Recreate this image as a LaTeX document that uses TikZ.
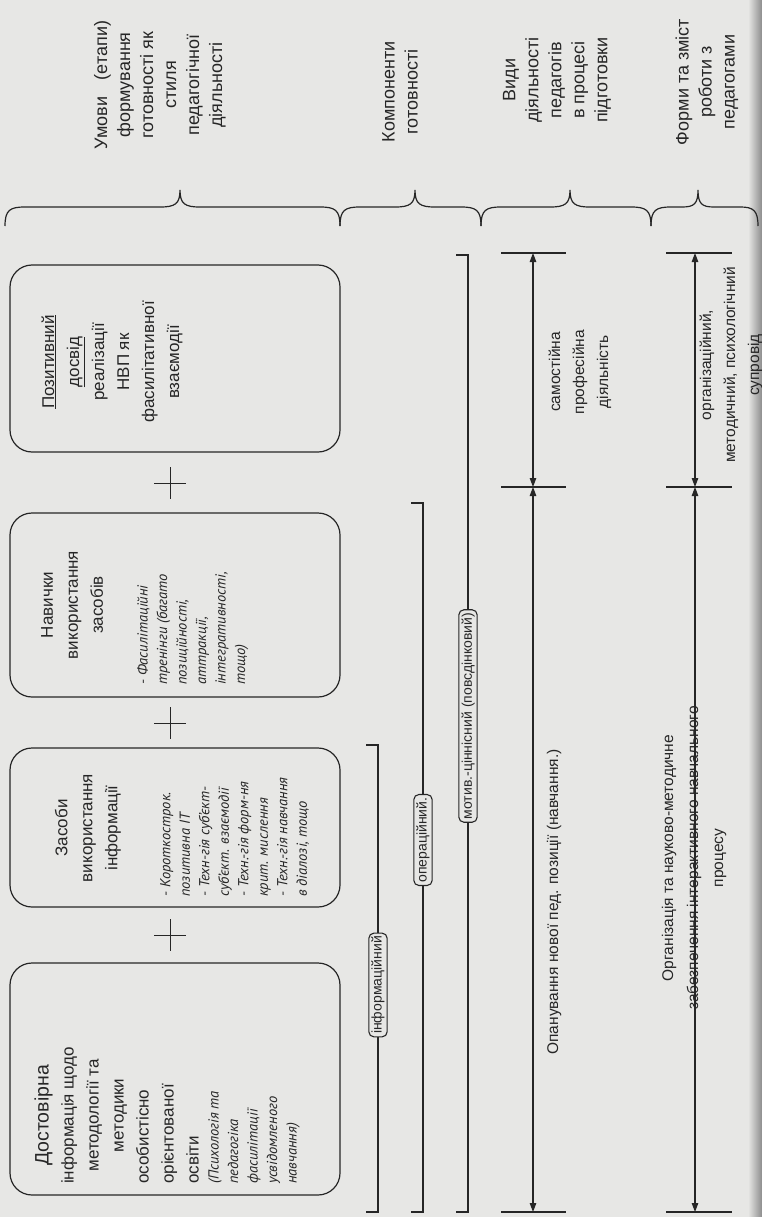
\documentclass[tikz,border=0pt]{standalone}
\usepackage{fontspec}
\setmainfont{Liberation Sans}
\newfontfamily\itf{PT Sans}
\usetikzlibrary{arrows.meta}
\definecolor{bg}{RGB}{231,231,229}
\definecolor{ink}{RGB}{38,38,38}
\tikzset{
  ln/.style={draw=ink, line width=1.2pt},
  box/.style={draw=ink, line width=1.2pt, rounded corners=22pt, inner sep=0pt},
  rtxt/.style={rotate=90, text=ink, inner sep=0pt, align=center},
  hdr/.style={rtxt, font=\fontsize{18}{23}\selectfont},
  btxt/.style={rtxt, font=\fontsize{17}{25}\selectfont},
  itxt/.style={rtxt, align=left, font=\itf\itshape\fontsize{14.5}{19.5}\selectfont},
  ltxt/.style={rtxt, font=\fontsize{15.5}{24}\selectfont},
  lbl/.style={rotate=90, draw=ink, line width=1.1pt, rounded corners=5pt, fill=bg, text=ink,
              inner xsep=3pt, inner ysep=2.5pt, font=\fontsize{14}{16}\selectfont},
  arr/.style={draw=ink, line width=1.1pt, {Triangle[length=9pt,width=6.5pt]}-{Triangle[length=9pt,width=6.5pt]}}
}
\begin{document}
\begin{tikzpicture}[x=1pt,y=-1pt]
\fill[bg] (0,0) rectangle (762,1217);
\useasboundingbox (0,0) rectangle (762,1217);
\shade[left color=bg, right color=black!45] (748,0) rectangle (762,1217);

% ---------- header texts ----------
\node[hdr] (h1) at (160,85) {Умови\hspace{0.9em}(етапи)\\формування\\готовності як\\стиля\\педагогічної\\діяльності};
\node[hdr] (h2) at (400,92) {Компоненти\\готовності};
\node[hdr] (h3) at (557,80) {Види\\діяльності\\педагогів\\в процесі\\підготовки};
\node[hdr] (h4) at (707,82) {Форми та зміст\\роботи з\\педагогами};

% ---------- braces ----------
\draw[ln] (5,226) .. controls (5,210) and (10,207) .. (25,207) -- (160,207)
  .. controls (175,207) and (180,204) .. (180,190)
  .. controls (180,204) and (185,207) .. (200,207) -- (320,207)
  .. controls (335,207) and (340,210) .. (340,226);
\draw[ln] (340,226) .. controls (340,210) and (345,207) .. (360,207) -- (395,207)
  .. controls (410,207) and (415,204) .. (415,190)
  .. controls (415,204) and (420,207) .. (435,207) -- (461,207)
  .. controls (476,207) and (481,210) .. (481,226);
\draw[ln] (481,226) .. controls (481,210) and (486,207) .. (501,207) -- (550,207)
  .. controls (565,207) and (570,204) .. (570,190)
  .. controls (570,204) and (575,207) .. (590,207) -- (631,207)
  .. controls (646,207) and (651,210) .. (651,226);
\draw[ln] (651,226) .. controls (651,210) and (656,207) .. (671,207) -- (682,207)
  .. controls (694,207) and (698,204) .. (698,190)
  .. controls (698,204) and (702,207) .. (714,207) -- (740,207)
  .. controls (753,207) and (758,210) .. (758,226);

% ---------- boxes ----------
\node[box, minimum width=330pt, minimum height=187pt] (bA) at (175,358.5) {};
\node[box, minimum width=330pt, minimum height=184pt] (bB) at (175,605) {};
\node[box, minimum width=330pt, minimum height=159pt] (bC) at (175,827.5) {};
\node[box, minimum width=330pt, minimum height=232pt] (bD) at (175,1079) {};

\node[btxt] (tA) at (112,362) {\underline{Позитивний}\\\underline{досвід}\\реалізації\\НВП як\\фасилітативної\\взаємодії};

\node[btxt] (tB) at (72,605) {Навички\\використання\\засобів};
\node[itxt, anchor=north west] (iB) at (137,685) {- Фасилітаційні\\тренінги (багато\\позиційності,\\аттракції,\\інтегративності,\\тощо)};

\node[btxt] (tC) at (88,828) {Засоби\\використання\\інформації};
\node[itxt, anchor=north west] (iC) at (160,897) {- Короткострок.\\позитивна ІТ\\- Техн-гія суб’єкт-\\суб’єкт. взаємодії\\- Техн.-гія форм-ня\\крит. мислення\\- Техн.-гія навчання\\в діалозі, тощо};

\node[rtxt, anchor=north west, font=\fontsize{17}{25}\selectfont] (tD) at (31,1184)
  {\begin{tabular}{@{}l@{}}
   \multicolumn{1}{@{}c@{}}{\fontsize{19.5}{25}\selectfont Достовірна}\\
   \multicolumn{1}{@{}c@{}}{інформація щодо}\\
   \multicolumn{1}{@{}c@{}}{методології та}\\
   \multicolumn{1}{@{}c@{}}{методики}\\
   особистісно\\
   орієнтованої\\
   освіти
   \end{tabular}};
\node[itxt, anchor=north west] (iD) at (208,1184) {(Психологія та\\педагогіка\\фасилітації\\усвідомленого\\навчання)};

% ---------- plus signs ----------
\coordinate (p1) at (170,483);
\coordinate (p2) at (170,723);
\coordinate (p3) at (170,935);
\foreach \p in {p1,p2,p3}{
  \draw[ln, line width=1pt] (\p) ++(-16,0) -- ++(32,0);
  \draw[ln, line width=1pt] (\p) ++(0,-16) -- ++(0,32);
}

% ---------- component brackets ----------
\node[lbl] (lI) at (378,985) {інформаційний};
\node[lbl] (lO) at (423,840) {операційний.};
\node[lbl] (lM) at (468,716) {мотив.-ціннісний (повсдінковий)};

\coordinate (kIa) at (366,745);  \coordinate (kIb) at (378,745);
\coordinate (kIc) at (378,1212); \coordinate (kId) at (366,1212);
\coordinate (kOa) at (411,503);  \coordinate (kOb) at (423,503);
\coordinate (kOc) at (423,1212); \coordinate (kOd) at (411,1212);
\coordinate (kMa) at (456,255);  \coordinate (kMb) at (468,255);
\coordinate (kMc) at (468,1212); \coordinate (kMd) at (456,1212);
\draw[ln] (kIa) -- (kIb) -- (lI.east);
\draw[ln] (lI.west) -- (kIc) -- (kId);
\draw[ln] (kOa) -- (kOb) -- (lO.east);
\draw[ln] (lO.west) -- (kOc) -- (kOd);
\draw[ln] (kMa) -- (kMb) -- (lM.east);
\draw[ln] (lM.west) -- (kMc) -- (kMd);

% ---------- activity arrows ----------
\coordinate (a1t) at (533,253); \coordinate (a1m) at (533,487); \coordinate (a1b) at (533,1212);
\coordinate (a2t) at (695,253); \coordinate (a2m) at (695,487); \coordinate (a2b) at (695,1212);
\foreach \y in {253,487,1212}{
  \draw[ln, line width=1.1pt] (501,\y) -- (566,\y);
  \draw[ln, line width=1.1pt] (666,\y) -- (732,\y);
}
\draw[arr] (a1t) -- (a1m);
\draw[arr] (a1m) -- (a1b);
\draw[arr] (a2t) -- (a2m);
\draw[arr] (a2m) -- (a2b);

\node[ltxt] (sam) at (580,372) {самостійна\\професійна\\діяльність};
\node[ltxt] (sup) at (731,365) {організаційний,\\методичний, психологічний\\супровід};
\node[ltxt, font=\fontsize{15.5}{24}\selectfont] (opan) at (554,902) {Опанування нової пед. позиції (навчання.)};
\node[ltxt, font=\fontsize{15.5}{25}\selectfont] (orgz) at (694,858) {Організація та науково-методичне\\забезпечення інтерактивного навчального\\процесу};
\end{tikzpicture}
\end{document}
